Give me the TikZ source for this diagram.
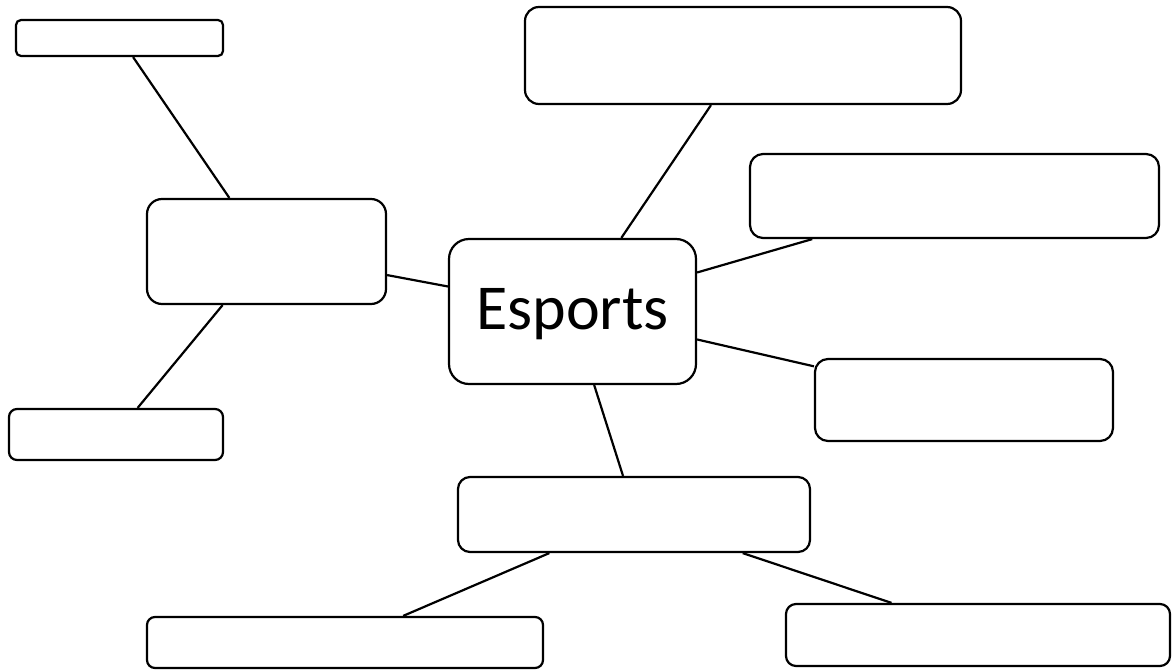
\documentclass[tikz,border=0pt]{standalone}
\usepackage{fontspec}
\setmainfont{Carlito}
\usetikzlibrary{calc}
\begin{document}
\begin{tikzpicture}[x=1pt,y=-1pt,line width=2.2pt,
  bx/.style={draw,rounded corners=#1,line join=round},
  bx/.default=8pt]
\useasboundingbox (0,0) rectangle (1172,669);
% boxes as nodes
\newcommand{\mybox}[6]{%
  \node[bx=#6,inner sep=0pt,minimum width=#4-#2,minimum height=#5-#3] (#1) at ({(#2+#4)/2},{(#3+#5)/2}) {};}
\mybox{tl}{16}{20}{223}{56}{5pt}
\mybox{lm}{147}{199}{386}{304}{15pt}
\mybox{bl}{9}{409}{223}{460}{8pt}
\mybox{tb}{525}{7}{961}{104}{14pt}
\mybox{ru}{750}{154}{1159}{238}{13pt}
\mybox{rl}{815}{359}{1113}{441}{13pt}
\mybox{bc}{458}{477}{810}{552}{12pt}
\mybox{bw}{147}{617}{543}{668}{8pt}
\mybox{br}{786}{604}{1170}{666}{10pt}
\node[bx=20pt,inner sep=0pt,minimum width=247,minimum height=145] (es) at (572.5,311.5) {};
\node[font=\fontsize{64}{64}\selectfont,inner sep=0pt] (estext) at ($(es.center)+(0,3)$) {Esports};
% connectors
\draw ($(tl.south west)!0.565!(tl.south east)$) -- ($(lm.north west)!0.346!(lm.north east)$);
\draw ($(lm.north east)!0.72!(lm.south east)$) -- ($(es.north west)!0.33!(es.south west)$);
\draw ($(lm.south west)!0.318!(lm.south east)$) -- ($(bl.north west)!0.60!(bl.north east)$);
\draw ($(es.north west)!0.696!(es.north east)$) -- ($(tb.south west)!0.427!(tb.south east)$);
\draw ($(es.north east)!0.235!(es.south east)$) -- ($(ru.south west)!0.154!(ru.south east)$);
\draw ($(es.north east)!0.69!(es.south east)$) -- ($(rl.north west)!0.10!(rl.south west)$);
\draw ($(es.south west)!0.587!(es.south east)$) -- ($(bc.north west)!0.469!(bc.north east)$);
\draw ($(bc.south west)!0.261!(bc.south east)$) -- ($(bw.north west)!0.646!(bw.north east)$);
\draw ($(bc.south west)!0.807!(bc.south east)$) -- ($(br.north west)!0.276!(br.north east)$);
\end{tikzpicture}
\end{document}
